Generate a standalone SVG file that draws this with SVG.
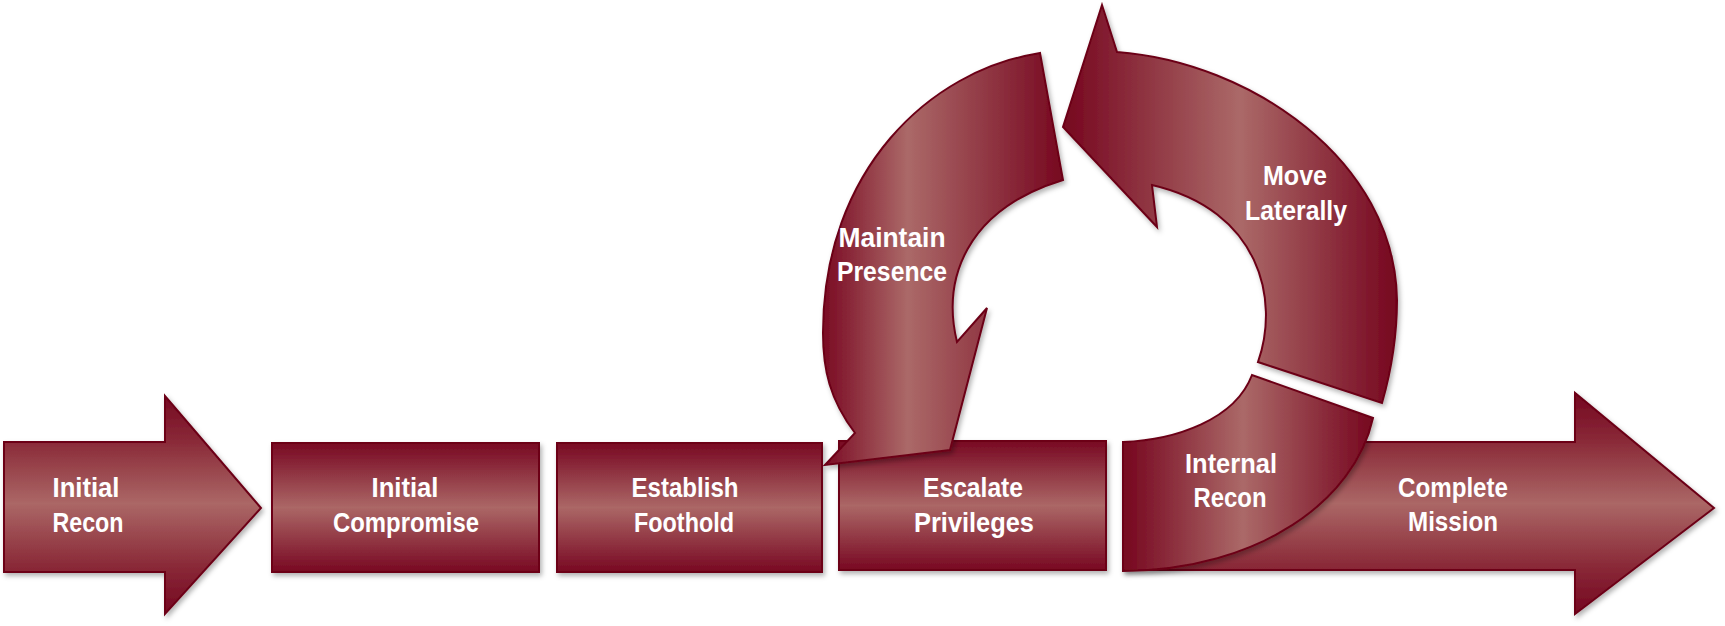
<svg xmlns="http://www.w3.org/2000/svg" width="1725" height="626" viewBox="0 0 1725 626">
  <defs>
    <linearGradient id="gBox" x1="0" y1="0" x2="0" y2="1">
      <stop offset="0" stop-color="#780822"/>
      <stop offset="0.5" stop-color="#ab6766"/>
      <stop offset="1" stop-color="#780822"/>
    </linearGradient>
    <linearGradient id="gArrowHead" gradientUnits="userSpaceOnUse" x1="0" y1="393" x2="0" y2="614">
      <stop offset="0" stop-color="#740620"/>
      <stop offset="0.22" stop-color="#8a2a38"/>
      <stop offset="0.5" stop-color="#ab6766"/>
      <stop offset="0.78" stop-color="#8a2a38"/>
      <stop offset="1" stop-color="#740620"/>
    </linearGradient>
    <linearGradient id="gMaintain" gradientUnits="userSpaceOnUse" x1="823" y1="0" x2="1065" y2="0">
      <stop offset="0" stop-color="#7a0a23"/>
      <stop offset="0.35" stop-color="#ab6968"/>
      <stop offset="1" stop-color="#76061f"/>
    </linearGradient>
    <linearGradient id="gMove" gradientUnits="userSpaceOnUse" x1="1063" y1="0" x2="1397" y2="0">
      <stop offset="0" stop-color="#76061f"/>
      <stop offset="0.53" stop-color="#ab6968"/>
      <stop offset="1" stop-color="#76061f"/>
    </linearGradient>
    <linearGradient id="gInternal" gradientUnits="userSpaceOnUse" x1="1123" y1="0" x2="1373" y2="0">
      <stop offset="0" stop-color="#76061f"/>
      <stop offset="0.48" stop-color="#ab6968"/>
      <stop offset="1" stop-color="#76061f"/>
    </linearGradient>
    <filter id="shadow" x="-10%" y="-10%" width="120%" height="130%">
      <feDropShadow dx="2" dy="3" stdDeviation="2.5" flood-color="#000" flood-opacity="0.3"/>
    </filter>
  </defs>
  <style>
    .shape { stroke: #6c0018; stroke-width: 2; stroke-linejoin: miter; filter: url(#shadow); }
    .lbl { font-family: "Liberation Sans", Arial, sans-serif; font-weight: bold; font-size: 28px; fill: #ffffff; text-anchor: middle; }
  </style>
  <rect width="1725" height="626" fill="#ffffff"/>

  <g id="connectors"></g>

  <g id="initial-recon">
    <path class="shape" fill="url(#gArrowHead)" d="M4,442 H165 V396 L261,508 L165,614 V572 H4 Z"/>
    <text class="lbl" x="86" y="497" textLength="67" lengthAdjust="spacingAndGlyphs">Initial</text>
    <text class="lbl" x="88" y="532" textLength="71" lengthAdjust="spacingAndGlyphs">Recon</text>
  </g>

  <g id="initial-compromise">
    <rect class="shape" fill="url(#gBox)" x="272" y="443" width="267" height="129"/>
    <text class="lbl" x="405" y="497" textLength="67" lengthAdjust="spacingAndGlyphs">Initial</text>
    <text class="lbl" x="406" y="532" textLength="146" lengthAdjust="spacingAndGlyphs">Compromise</text>
  </g>

  <g id="establish-foothold">
    <rect class="shape" fill="url(#gBox)" x="557" y="443" width="265" height="129"/>
    <text class="lbl" x="685" y="497" textLength="107" lengthAdjust="spacingAndGlyphs">Establish</text>
    <text class="lbl" x="684" y="532" textLength="100" lengthAdjust="spacingAndGlyphs">Foothold</text>
  </g>

  <g id="escalate-privileges">
    <rect class="shape" fill="url(#gBox)" x="839" y="441" width="267" height="129"/>
    <text class="lbl" x="973" y="497" textLength="100" lengthAdjust="spacingAndGlyphs">Escalate</text>
    <text class="lbl" x="974" y="532" textLength="120" lengthAdjust="spacingAndGlyphs">Privileges</text>
  </g>

  <g id="complete-mission">
    <path class="shape" fill="url(#gArrowHead)" d="M1124,442 H1575 V393 L1714,508 L1575,614 V570 H1124 Z"/>
    <text class="lbl" x="1453" y="497" textLength="110" lengthAdjust="spacingAndGlyphs">Complete</text>
    <text class="lbl" x="1453" y="531" textLength="90" lengthAdjust="spacingAndGlyphs">Mission</text>
  </g>

  <g id="internal-recon">
    <path class="shape" fill="url(#gInternal)" d="M1123,442 C1175,440 1235,420 1252,375 L1373,418 C1355,500 1260,570 1123,571 Z"/>
    <text class="lbl" x="1231" y="473" textLength="92" lengthAdjust="spacingAndGlyphs">Internal</text>
    <text class="lbl" x="1230" y="507" textLength="73" lengthAdjust="spacingAndGlyphs">Recon</text>
  </g>

  <g id="move-laterally">
    <path class="shape" fill="url(#gMove)" d="M1102,5 L1117,52 C1250,62 1395,160 1397,300 C1397,340 1390,375 1382,403 L1258,362 C1280,300 1260,210 1152,185 L1157,227 L1063,127 Z"/>
    <text class="lbl" x="1295" y="185" textLength="64" lengthAdjust="spacingAndGlyphs">Move</text>
    <text class="lbl" x="1296" y="220" textLength="102" lengthAdjust="spacingAndGlyphs">Laterally</text>
  </g>

  <g id="maintain-presence">
    <path class="shape" fill="url(#gMaintain)" d="M1040,53 C930,70 823,170 823,333 C823,370 830,400 855,433 L825,465 L950,450 L987,308 L957,342 C942,280 965,210 1063,180 Z"/>
    <text class="lbl" x="892" y="247" textLength="107" lengthAdjust="spacingAndGlyphs">Maintain</text>
    <text class="lbl" x="892" y="281" textLength="110" lengthAdjust="spacingAndGlyphs">Presence</text>
  </g>
</svg>
